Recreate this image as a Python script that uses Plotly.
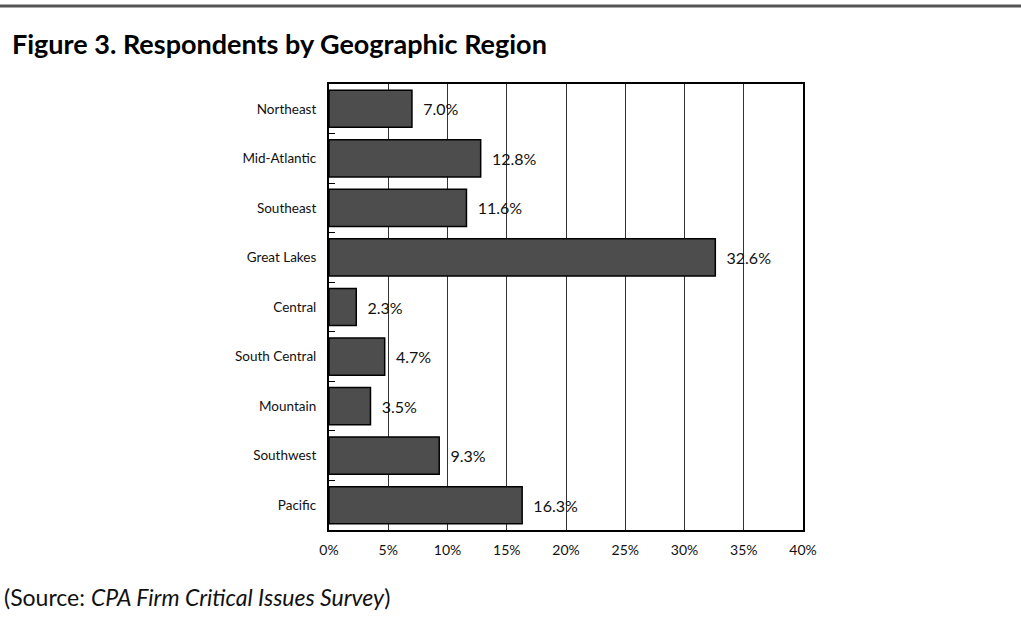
import plotly.graph_objects as go

regions = ["Northeast", "Mid-Atlantic", "Southeast", "Great Lakes", "Central",
           "South Central", "Mountain", "Southwest", "Pacific"]
shares = [7.0, 12.8, 11.6, 32.6, 2.3, 4.7, 3.5, 9.3, 16.3]
x_ticks = [0, 5, 10, 15, 20, 25, 30, 35, 40]
x_tick_labels = [f"{v}%" for v in x_ticks]

font_family = "Lato, Noto Sans, sans-serif"

# plot area in pixels, used to place the title, source line and rule
PLOT_L, PLOT_R, PLOT_T, PLOT_B = 329, 803, 84, 530
PW, PH = PLOT_R - PLOT_L, PLOT_B - PLOT_T

fig = go.Figure(go.Bar(
    x=shares,
    y=regions,
    orientation="h",
    marker=dict(color="#4d4d4d", line=dict(color="#000000", width=1.5)),
    text=["\u00a0\u00a0" + f"{v:.1f}%" for v in shares],
    textposition="outside",
    textfont=dict(size=16, color="#111111", family=font_family),
    cliponaxis=False,
    width=0.75,
))

fig.update_layout(
    width=1021, height=619,
    margin=dict(l=PLOT_L, r=1021 - PLOT_R, t=PLOT_T, b=619 - PLOT_B),
    paper_bgcolor="white", plot_bgcolor="white",
    showlegend=False,
    font=dict(family=font_family, color="#111111"),
    xaxis=dict(
        range=[0, 40], tickvals=x_ticks, ticktext=x_tick_labels,
        showgrid=True, gridcolor="#333333", gridwidth=1,
        showline=True, linecolor="#000000", linewidth=2, mirror=True,
        ticks="", tickfont=dict(size=14), ticklabelstandoff=6,
        zeroline=False, fixedrange=True,
    ),
    yaxis=dict(
        autorange="reversed",
        showline=True, linecolor="#000000", linewidth=2, mirror=True,
        ticks="inside", tickson="boundaries", ticklen=6, tickcolor="#000000",
        tickwidth=1, tickfont=dict(size=13.5), ticklabelstandoff=8,
        showgrid=False, fixedrange=True,
    ),
    shapes=[dict(type="line", xref="paper", yref="paper",
                 x0=-PLOT_L / PW, x1=(1021 - PLOT_L) / PW,
                 y0=1 + 78 / PH, y1=1 + 78 / PH,
                 line=dict(color="#555555", width=3))],
    annotations=[
        dict(text="<b>Figure 3. Respondents by Geographic Region</b>",
             xref="paper", yref="paper", x=-(PLOT_L - 10) / PW, y=1 + 41 / PH,
             xanchor="left", yanchor="middle", showarrow=False,
             font=dict(size=27, family=font_family, color="#000000")),
        dict(text="(Source: <i>CPA Firm Critical Issues Survey</i>)",
             xref="paper", yref="paper", x=-(PLOT_L - 2) / PW, y=-67 / PH,
             xanchor="left", yanchor="middle", showarrow=False,
             font=dict(size=23, family=font_family, color="#111111")),
    ],
)

fig.write_html("out.html")
